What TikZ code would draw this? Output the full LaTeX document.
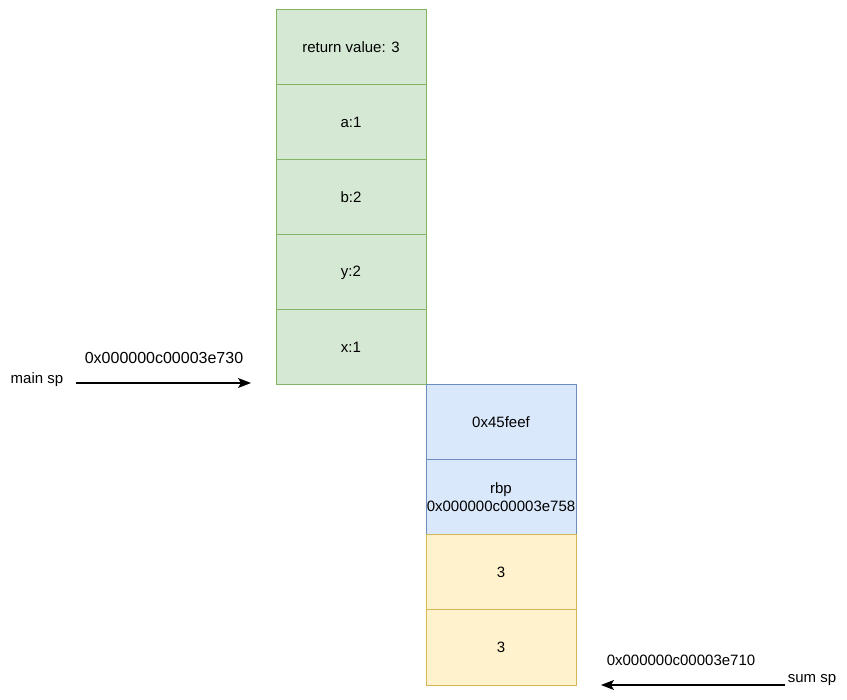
\documentclass[tikz,border=0pt]{standalone}
\usepackage{fontspec}
\setmainfont{Liberation Sans}
\usepackage{tikz}
\usetikzlibrary{arrows.meta,positioning}

\definecolor{greenfill}{HTML}{D5E8D4}
\definecolor{greenline}{HTML}{82B366}
\definecolor{bluefill}{HTML}{DAE8FC}
\definecolor{blueline}{HTML}{6C8EBF}
\definecolor{yellowfill}{HTML}{FFF2CC}
\definecolor{yellowline}{HTML}{D6B656}

\begin{document}
\begin{tikzpicture}[
  x=1pt, y=-1pt,
  cell/.style={draw, line width=1pt, minimum width=150pt, minimum height=75pt, inner sep=0pt, outer sep=0pt, align=center, font=\fontsize{15}{18}\selectfont},
  gcell/.style={cell, fill=greenfill, draw=greenline},
  bcell/.style={cell, fill=bluefill, draw=blueline},
  ycell/.style={cell, fill=yellowfill, draw=yellowline},
  lbl/.style={font=\fontsize{15}{18}\selectfont, inner sep=0pt},
  arr/.style={-{Stealth[length=13pt,width=10pt,inset=3pt]}, line width=1.2pt}
]
  \useasboundingbox (0,0) rectangle (847,700);

  % main frame (green)
  \node[gcell] (retval) at (351,47.5) {return value: 3};
  \node[gcell, below=0pt of retval] (vara) {a:1};
  \node[gcell, below=0pt of vara] (varb) {b:2};
  \node[gcell, below=0pt of varb] (vary) {y:2};
  \node[gcell, below=0pt of vary] (varx) {x:1};

  % sum frame (blue, then yellow)
  \node[bcell, below right=0pt of varx.south east, anchor=north west] (retaddr) {0x45feef};
  \node[bcell, below=0pt of retaddr] (savedrbp) {rbp\\0x000000c00003e758};
  \node[ycell, below=0pt of savedrbp] (tmpa) {3};
  \node[ycell, below=0pt of tmpa] (tmpb) {3};

  % main sp pointer
  \node[lbl] (mainsp) at (37,380) {main sp};
  \node[lbl, font=\fontsize{16}{19}\selectfont] (mainaddr) at (164,358) {0x000000c00003e730};
  \coordinate (mainstart) at (76,383);
  \coordinate (mainend) at (251,383);
  \draw[arr] (mainstart) -- (mainend);

  % sum sp pointer
  \node[lbl] (sumsp) at (812,680) {sum sp};
  \node[lbl] (sumaddr) at (681,660) {0x000000c00003e710};
  \coordinate (sumstart) at (785,685);
  \coordinate (sumend) at (601,685);
  \draw[arr] (sumstart) -- (sumend);

\end{tikzpicture}
\end{document}
